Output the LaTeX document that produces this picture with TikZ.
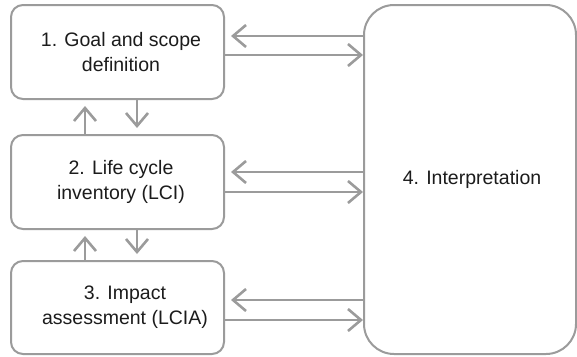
\documentclass[tikz,border=0pt]{standalone}
\usepackage{fontspec}
\setmainfont{Liberation Sans}
\usetikzlibrary{arrows.meta,calc}
\definecolor{edge}{HTML}{9B9B9B}
\definecolor{ink}{HTML}{1C1C1C}
\begin{document}
\begin{tikzpicture}[x=1pt,y=-1pt,
  stage/.style={draw=edge, line width=2pt, rounded corners=12pt, fill=white,
    minimum width=213pt, minimum height=94pt, inner sep=0pt},
  flow/.style={draw=edge, line width=2.6pt,
    -{Straight Barb[length=13pt,width=22pt,line width=2.6pt]}},
  gap/.style={shorten >=6pt},
  label/.style={text=ink, font=\fontsize{19.5}{25}\selectfont, align=center}]
  \useasboundingbox (0,0) rectangle (577,356);

  % the three phases on the left
  \node[stage] (goal) at (117.5,52) {};
  \node[stage] (lci)  at (117.5,182) {};
  \node[stage, minimum height=93pt] (lcia) at (117.5,307.5) {};
  % interpretation on the right
  \node[stage, rounded corners=30pt, minimum width=212pt, minimum height=349pt]
    (interp) at (470,179.5) {};

  \node[label] (goalt) at (121,52) {1. Goal and scope\\definition};
  \node[label] (lcit)  at (121,182) {2. Life cycle\\inventory (LCI)};
  \node[label] (liat)  at (125,307.5) {3. Impact\\assessment (LCIA)};
  \node[label] (intt)  at (472,179.5) {4. Interpretation};

  % exchanges with interpretation
  \draw[flow, gap] ($(interp.west |- goal.east)+(0,-16)$) -- ($(goal.east)+(0,-16)$);
  \draw[flow] ($(goal.east)+(0,3)$) -- ($(interp.west |- goal.east)+(0,3)$);
  \draw[flow, gap] ($(interp.west |- lci.east)+(0,-10)$) -- ($(lci.east)+(0,-10)$);
  \draw[flow] ($(lci.east)+(0,10)$) -- ($(interp.west |- lci.east)+(0,10)$);
  \draw[flow, gap] ($(interp.west |- lcia.east)+(0,-7.5)$) -- ($(lcia.east)+(0,-7.5)$);
  \draw[flow] ($(lcia.east)+(0,12.5)$) -- ($(interp.west |- lcia.east)+(0,12.5)$);

  % iteration between neighbouring phases
  \draw[flow, gap] (85,0 |- lci.north) -- (85,0 |- goal.south);
  \draw[flow, gap] (137,0 |- goal.south) -- (137,0 |- lci.north);
  \draw[flow, gap] (85,0 |- lcia.north) -- (85,0 |- lci.south);
  \draw[flow, gap] (137,0 |- lci.south) -- (137,0 |- lcia.north);
\end{tikzpicture}
\end{document}
